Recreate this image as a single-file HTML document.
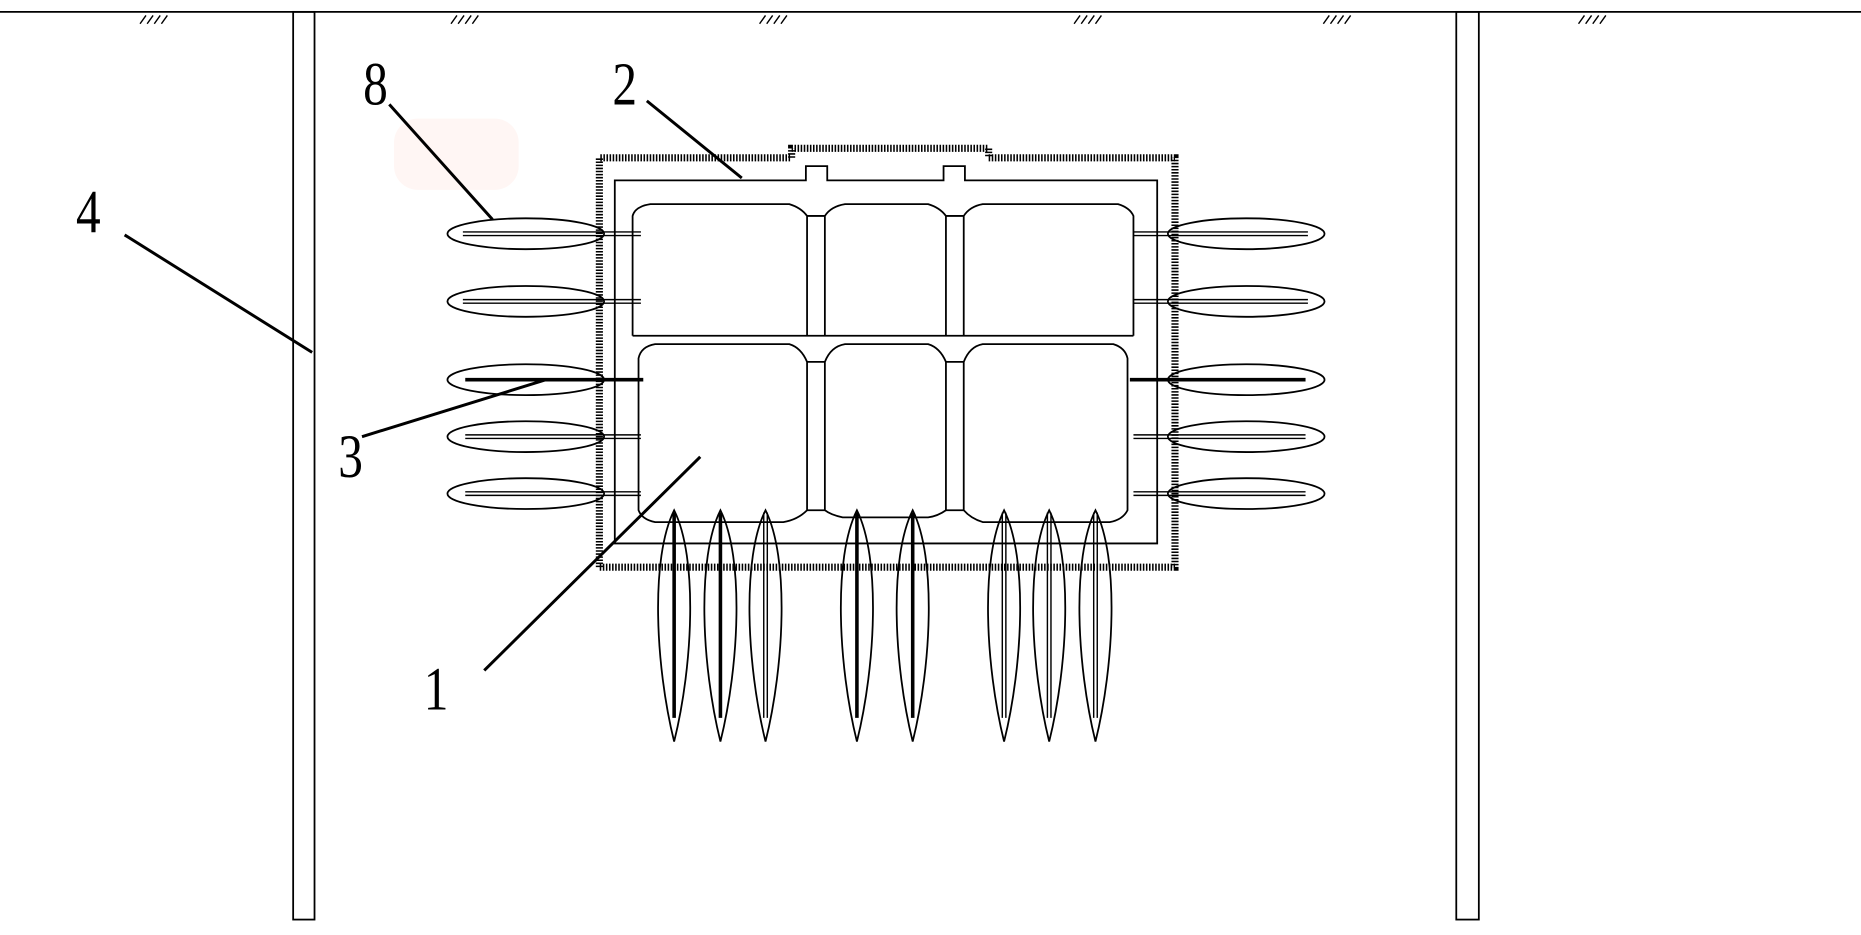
<!DOCTYPE html>
<html><head><style>html,body{margin:0;padding:0;background:#fff}svg{display:block}</style></head>
<body>
<svg width="1861" height="935" viewBox="0 0 1568 788" preserveAspectRatio="none" xmlns="http://www.w3.org/2000/svg">
<rect x="332" y="100" width="105" height="60" rx="20" fill="#fff6f4"/>
<g fill="none" stroke="#000" stroke-width="1.5">
<line x1="0" y1="10" x2="1568" y2="10"/>
<g stroke-width="1.2">
<path d="M118,20l5,-7M124,20l5,-7M130,20l5,-7M136,20l5,-7"/>
<path d="M380,20l5,-7M386,20l5,-7M392,20l5,-7M398,20l5,-7"/>
<path d="M640,20l5,-7M646,20l5,-7M652,20l5,-7M658,20l5,-7"/>
<path d="M905,20l5,-7M911,20l5,-7M917,20l5,-7M923,20l5,-7"/>
<path d="M1115,20l5,-7M1121,20l5,-7M1127,20l5,-7M1133,20l5,-7"/>
<path d="M1330,20l5,-7M1336,20l5,-7M1342,20l5,-7M1348,20l5,-7"/>
</g>
<rect x="247" y="10" width="18" height="765"/>
<rect x="1227" y="10" width="19" height="765"/>
<path d="M505,478 L505,133 L667,133 L667,125 L833,125 L833,133 L990,133 L990,478 Z" stroke-width="6" stroke-dasharray="1.3 1.3"/>
<path d="M518,458 L518,152 L679,152 L679,140 L697,140 L697,152 L795,152 L795,140 L813,140 L813,152 L975,152 L975,458 Z"/>
<path d="M533,283 L533,182 Q535,174 548,172 L665,172 Q675,175 680,182 L680,283"/>
<path d="M695,283 L695,182 Q700,174 712,172 L782,172 Q792,175 797,182 L797,283"/>
<path d="M812,283 L812,182 Q817,174 828,172 L942,172 Q952,175 955,182 L955,283"/>
<line x1="533" y1="283" x2="955" y2="283"/>
<line x1="680" y1="182" x2="695" y2="182"/><line x1="797" y1="182" x2="812" y2="182"/>
<path d="M538,430 L538,302 Q540,292 552,290 L665,290 Q675,293 680,305 L680,430 Q672,438 660,440 L552,440 Q541,438 538,430 Z"/>
<path d="M695,305 Q700,292 712,290 L782,290 Q792,293 797,305 L797,430 Q790,435 782,436 L710,436 Q700,434 695,430 Z"/>
<path d="M812,305 Q817,292 828,290 L938,290 Q948,293 950,302 L950,430 Q946,438 935,440 L828,440 Q818,437 812,430 Z"/>
<line x1="680" y1="305" x2="695" y2="305"/><line x1="797" y1="305" x2="812" y2="305"/>
<line x1="680" y1="430" x2="695" y2="430"/><line x1="797" y1="430" x2="812" y2="430"/>
<g>
<ellipse cx="443" cy="197" rx="66" ry="13"/><ellipse cx="443" cy="254" rx="66" ry="13"/>
<ellipse cx="443" cy="320" rx="66" ry="13"/><ellipse cx="443" cy="368" rx="66" ry="13"/>
<ellipse cx="443" cy="416" rx="66" ry="13"/>
<ellipse cx="1050" cy="197" rx="66" ry="13"/><ellipse cx="1050" cy="254" rx="66" ry="13"/>
<ellipse cx="1050" cy="320" rx="66" ry="13"/><ellipse cx="1050" cy="368" rx="66" ry="13"/>
<ellipse cx="1050" cy="416" rx="66" ry="13"/>
</g>
<g stroke-width="1.2">
<path d="M390,195.5H540M390,198.5H540M390,252.5H540M390,255.5H540M392,366.5H540M392,369.5H540M392,414.5H540M392,417.5H540"/>
<path d="M955,195.5H1102M955,198.5H1102M955,252.5H1102M955,255.5H1102M955,366.5H1100M955,369.5H1100M955,414.5H1100M955,417.5H1100"/>
</g>
<path d="M392,320H542M952,320H1100" stroke-width="3"/>
<g>
<path d="M568,430 C548,470 552,560 568,625 C584,560 588,470 568,430Z"/>
<path d="M607,430 C587,470 591,560 607,625 C623,560 627,470 607,430Z"/>
<path d="M645,430 C625,470 629,560 645,625 C661,560 665,470 645,430Z"/>
<path d="M722,430 C702,470 706,560 722,625 C738,560 742,470 722,430Z"/>
<path d="M769,430 C749,470 753,560 769,625 C785,560 789,470 769,430Z"/>
<path d="M846,430 C826,470 830,560 846,625 C862,560 866,470 846,430Z"/>
<path d="M884,430 C864,470 868,560 884,625 C900,560 904,470 884,430Z"/>
<path d="M923,430 C903,470 907,560 923,625 C939,560 943,470 923,430Z"/>
</g>
<path d="M568,432V605M607,432V605M722,432V605M769,432V605" stroke-width="3"/>
<path d="M643.5,432V605M646.5,432V605M844.5,432V605M847.5,432V605M882.5,432V605M885.5,432V605M921.5,432V605M924.5,432V605" stroke-width="1.2"/>
<g stroke-width="2.5">
<line x1="328" y1="88" x2="415" y2="185"/>
<line x1="545" y1="85" x2="625" y2="150"/>
<line x1="105" y1="198" x2="263" y2="297"/>
<line x1="305" y1="368" x2="460" y2="320"/>
<line x1="408" y1="565" x2="590" y2="385"/>
</g>
</g>
<g font-family="Liberation Serif, serif" font-size="52" fill="#000">
<text transform="translate(306,88) scale(0.8,1)">8</text>
<text transform="translate(516,88) scale(0.8,1)">2</text>
<text transform="translate(64,196) scale(0.8,1)">4</text>
<text transform="translate(285,402) scale(0.8,1)">3</text>
<text transform="translate(357,598) scale(0.8,1)">1</text>
</g>
</svg>
</body></html>
